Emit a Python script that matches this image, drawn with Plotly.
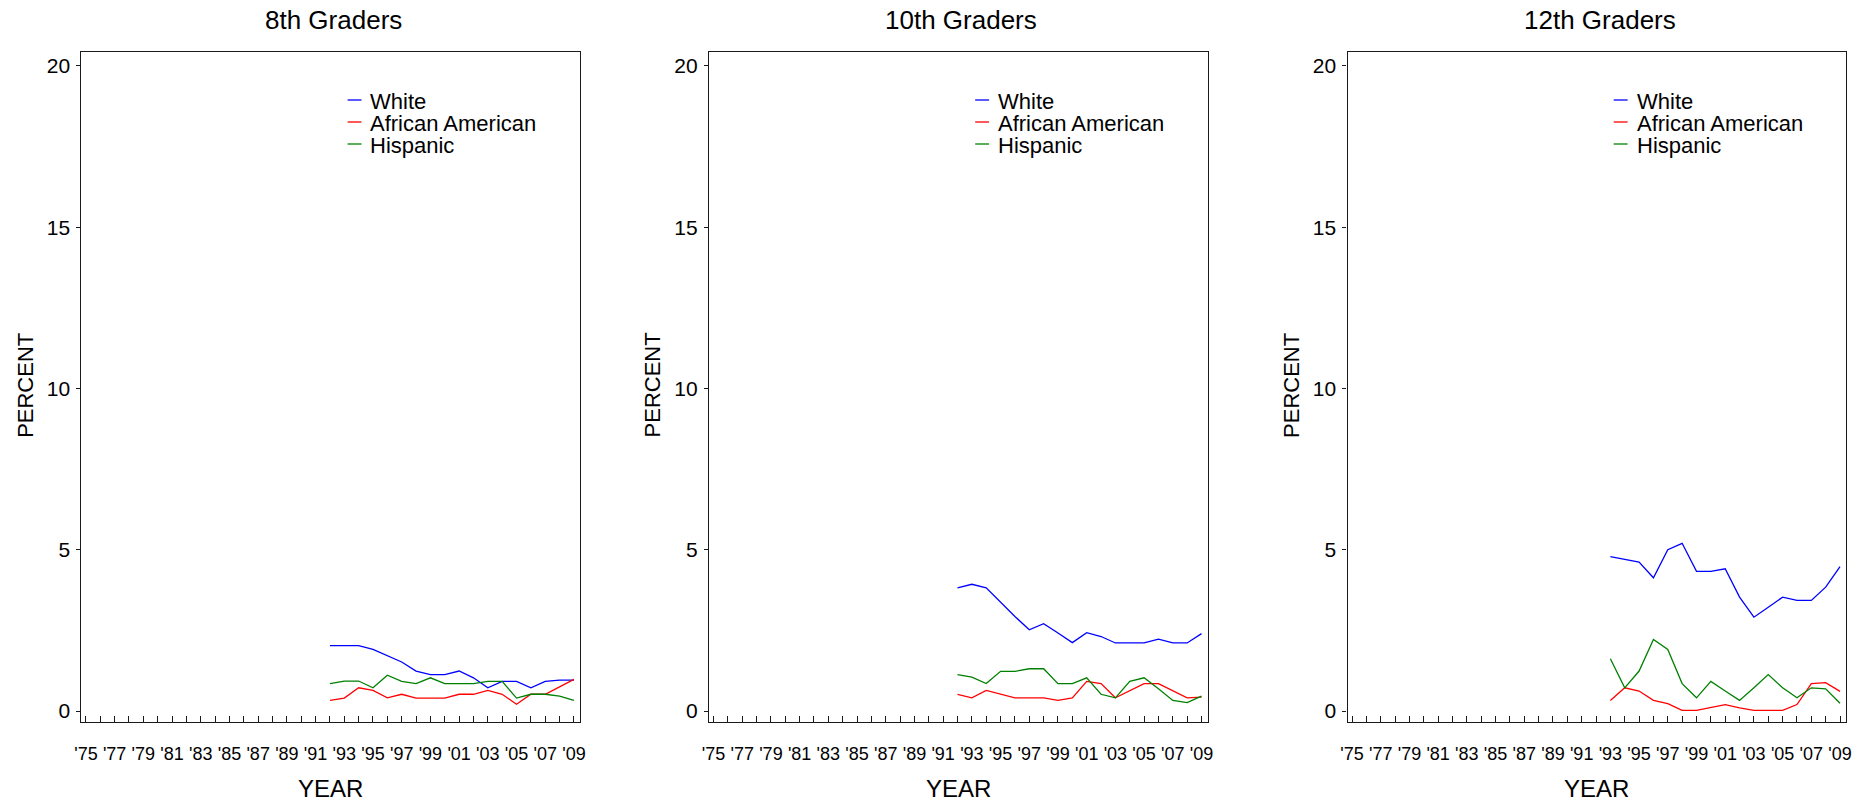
import plotly.graph_objects as go

# ---------------- data ----------------
years_8 = list(range(1992, 2010))
white_8 = [2.03, 2.03, 2.03, 1.91, 1.71, 1.52, 1.24, 1.13, 1.13, 1.24, 1.03, 0.72, 0.92, 0.92, 0.72, 0.92, 0.96, 0.96]
aa_8 = [0.33, 0.40, 0.72, 0.64, 0.41, 0.52, 0.40, 0.40, 0.40, 0.52, 0.52, 0.64, 0.52, 0.21, 0.52, 0.52, 0.74, 0.98]
hisp_8 = [0.85, 0.93, 0.93, 0.72, 1.11, 0.92, 0.85, 1.03, 0.85, 0.85, 0.85, 0.92, 0.92, 0.40, 0.52, 0.52, 0.46, 0.33]

years_10 = list(range(1992, 2010))
white_10 = [3.82, 3.93, 3.82, 3.36, 2.93, 2.52, 2.71, 2.42, 2.12, 2.43, 2.31, 2.11, 2.11, 2.11, 2.23, 2.11, 2.11, 2.40]
aa_10 = [0.52, 0.41, 0.64, 0.52, 0.41, 0.41, 0.41, 0.33, 0.41, 0.92, 0.85, 0.41, 0.62, 0.85, 0.85, 0.64, 0.41, 0.43]
hisp_10 = [1.13, 1.05, 0.85, 1.23, 1.23, 1.31, 1.31, 0.85, 0.85, 1.03, 0.52, 0.41, 0.92, 1.03, 0.69, 0.33, 0.26, 0.46]

years_12 = list(range(1993, 2010))
white_12 = [4.79, 4.71, 4.62, 4.13, 5.00, 5.20, 4.33, 4.33, 4.41, 3.53, 2.91, 3.22, 3.53, 3.43, 3.43, 3.84, 4.48]
aa_12 = [0.33, 0.72, 0.62, 0.33, 0.23, 0.02, 0.02, 0.10, 0.20, 0.10, 0.02, 0.02, 0.02, 0.20, 0.85, 0.88, 0.61]
hisp_12 = [1.62, 0.72, 1.24, 2.22, 1.91, 0.85, 0.41, 0.92, 0.62, 0.33, 0.72, 1.13, 0.72, 0.41, 0.72, 0.69, 0.24]

panel_titles = ["8th Graders", "10th Graders", "12th Graders"]
series_names = ["White", "African American", "Hispanic"]
series_colors = ["#0000FF", "#FF0000", "#008000"]

tick_years = list(range(1975, 2010))
tick_labels = ["'" + str(y)[2:] if (y - 1975) % 2 == 0 else "" for y in tick_years]
y_ticks = [0, 5, 10, 15, 20]

panels = [
    (years_8, [white_8, aa_8, hisp_8]),
    (years_10, [white_10, aa_10, hisp_10]),
    (years_12, [white_12, aa_12, hisp_12]),
]

# ---------------- layout geometry (page pixels) ----------------
W, H = 1860, 804
box_left = [75, 707, 1350]
box_width = 502
box_top, box_bottom = 52, 722
FONT = "Liberation Sans, Arial, Helvetica, sans-serif"
AXC = "#1a1a1a"


def px(x):
    return x / W


def py(y):
    return 1 - y / H


fig = go.Figure()
layout = dict(
    width=W, height=H,
    margin=dict(l=0, r=0, t=0, b=0),
    paper_bgcolor="white", plot_bgcolor="white",
    showlegend=False,
    font=dict(family=FONT, color="black"),
    annotations=[], shapes=[],
)

for i, (yrs, vals) in enumerate(panels):
    n = "" if i == 0 else str(i + 1)
    for name, color, v in zip(series_names, series_colors, vals):
        fig.add_trace(go.Scatter(
            x=yrs, y=v, mode="lines", name=name,
            line=dict(color=color, width=1.3),
            xaxis="x" + n, yaxis="y" + n, showlegend=False,
        ))
    L = box_left[i]
    layout["xaxis" + n] = dict(
        domain=[px(L), px(L + box_width)], anchor="y" + n,
        range=[1974.69, 2009.42],
        tickmode="array", tickvals=tick_years, ticktext=tick_labels,
        ticks="inside", ticklen=6, tickwidth=1.2, tickcolor=AXC,
        ticklabelstandoff=15, ticklabeloverflow="allow",
        tickfont=dict(size=18, family=FONT, color="black"),
        showline=True, linecolor=AXC, linewidth=1.3, mirror=True,
        showgrid=False, zeroline=False,
    )
    layout["yaxis" + n] = dict(
        domain=[py(box_bottom), py(box_top)], anchor="x" + n,
        range=[-0.34, 20.43],
        tickmode="array", tickvals=y_ticks,
        ticks="outside", ticklen=4, tickwidth=1.2, tickcolor=AXC,
        ticklabelstandoff=2,
        tickfont=dict(size=21, family=FONT, color="black"),
        showline=True, linecolor=AXC, linewidth=1.3, mirror=True,
        showgrid=False, zeroline=False,
    )
    cx = L + box_width / 2
    # panel title
    layout["annotations"].append(dict(
        text=panel_titles[i], xref="paper", yref="paper",
        x=px(cx + 3), y=py(20), xanchor="center", yanchor="middle",
        showarrow=False, font=dict(size=26, family=FONT, color="black"),
    ))
    # axis titles
    layout["annotations"].append(dict(
        text="YEAR", xref="paper", yref="paper",
        x=px(cx), y=py(788), xanchor="center", yanchor="middle",
        showarrow=False, font=dict(size=24, family=FONT, color="black"),
    ))
    layout["annotations"].append(dict(
        text="PERCENT", xref="paper", yref="paper",
        x=px(L - 57), y=py(385), xanchor="center", yanchor="middle",
        textangle=-90,
        showarrow=False, font=dict(size=22, family=FONT, color="black"),
    ))
    # legend (per panel)
    for k, (name, color) in enumerate(zip(series_names, series_colors)):
        ly = 100 + k * 22
        layout["shapes"].append(dict(
            type="line", xref="paper", yref="paper",
            x0=px(L + 268), x1=px(L + 282), y0=py(ly), y1=py(ly),
            line=dict(color=color, width=1.3),
        ))
        layout["annotations"].append(dict(
            text=name, xref="paper", yref="paper",
            x=px(L + 289), y=py(ly + 1), xanchor="left", yanchor="middle",
            showarrow=False, font=dict(size=22, family=FONT, color="black"),
        ))

fig.update_layout(**layout)
fig.write_html(
    "out.html",
    config={"displayModeBar": False},
    post_script="document.body.style.margin='0';document.body.style.overflow='hidden';",
)
